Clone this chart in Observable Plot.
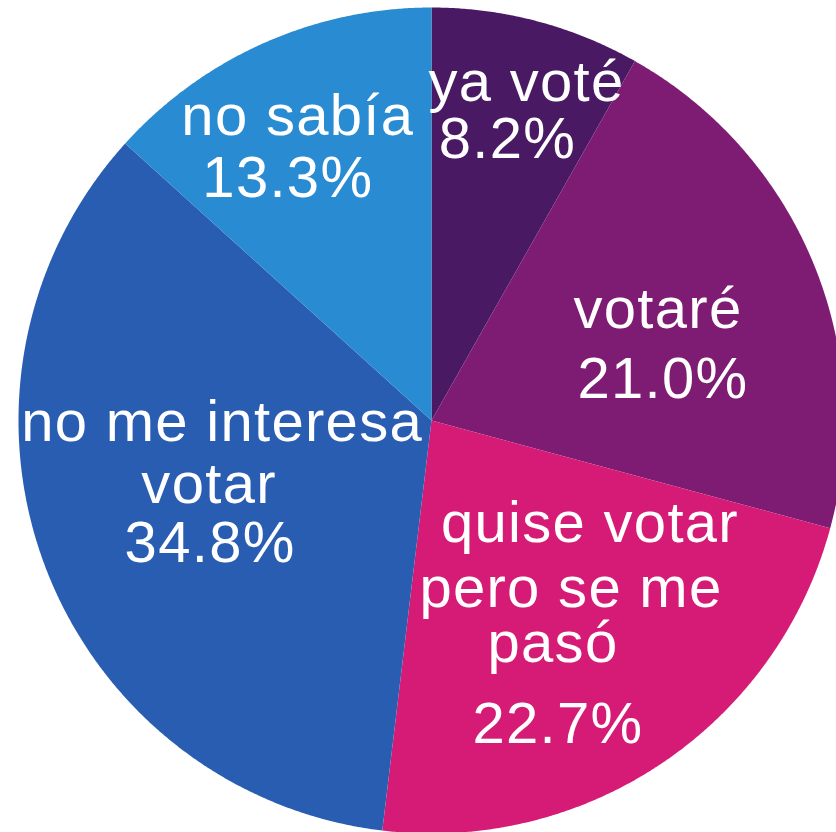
<!DOCTYPE html>
<html><head><meta charset="utf-8">
<script src="https://cdn.jsdelivr.net/npm/d3@7"></script>
<script src="https://cdn.jsdelivr.net/npm/@observablehq/plot@0.6"></script>
<style>
body{margin:0;background:#fff;overflow:hidden}
#chart text{letter-spacing:1.3px}
</style></head><body><div id="chart"></div>
<script>
// ---- data ----
const categories = ["ya voté", "votaré", "quise votar pero se me pasó", "no me interesa votar", "no sabía"];
const shares = [8.2, 21.0, 22.7, 34.8, 13.3];
const labelLines = [["ya voté"], ["votaré"], ["quise votar", "pero se me", "pasó"], ["no me interesa", "votar"], ["no sabía"]];

// ---- styles / layout ----
const colors = ["#4a1963", "#7e1b73", "#d51b76", "#295db1", "#298bd1"];
const W = 836, H = 832, CX = 431, CY = 420, R = 413;
const labelRadius = [310, 240, 260, 230, 290];
const lineOffsets = [
  [[16, -20], [-3, 37]],
  [[5, 0], [10, 70]],
  [[13, -93.5], [-6, -28.5], [-24, 26.5], [-19, 107.5]],
  [[6, -60], [-7, 2], [-6, 61]],
  [[-16, -20], [-26, 42]]
];

const polar = (a, r) => [CX + r * Math.sin(a), CY - r * Math.cos(a)];
const arcs = d3.pie().sort(null).value(d => d)(shares);

const slices = arcs.map((a, i) => {
  const ring = [[CX, CY]];
  const n = Math.max(2, Math.ceil((a.endAngle - a.startAngle) / 0.005));
  for (let k = 0; k <= n; ++k) ring.push(polar(a.startAngle + (a.endAngle - a.startAngle) * k / n, R));
  ring.push([CX, CY]);
  return {type: "Feature", properties: {label: categories[i]}, geometry: {type: "Polygon", coordinates: [ring]}};
});

const textRows = [];
arcs.forEach((a, i) => {
  const mid = (a.startAngle + a.endAngle) / 2;
  const [ax, ay] = polar(mid, labelRadius[i]);
  const lines = [...labelLines[i], d3.format(".1f")(shares[i]) + "%"];
  lines.forEach((t, j) => {
    const [dx, dy] = lineOffsets[i][j];
    textRows.push({x: ax + dx, y: ay + dy, text: t});
  });
});

const frame = {type: "Polygon", coordinates: [[[0, 0], [W, 0], [W, H], [0, H], [0, 0]]]};

const chart = Plot.plot({
  width: W,
  height: H,
  margin: 0,
  projection: {type: "identity", domain: frame},
  color: {domain: categories, range: colors},
  marks: [
    Plot.geo(slices, {fill: d => d.properties.label, stroke: "none"}),
    Plot.text(textRows, {
      x: "x", y: "y", text: "text",
      fill: "white", fontSize: 58,
      fontFamily: "'Liberation Sans', Arial, Helvetica, sans-serif",
      textAnchor: "middle", lineAnchor: "bottom"
    })
  ]
});
document.getElementById("chart").appendChild(chart);
</script>
</body></html>
